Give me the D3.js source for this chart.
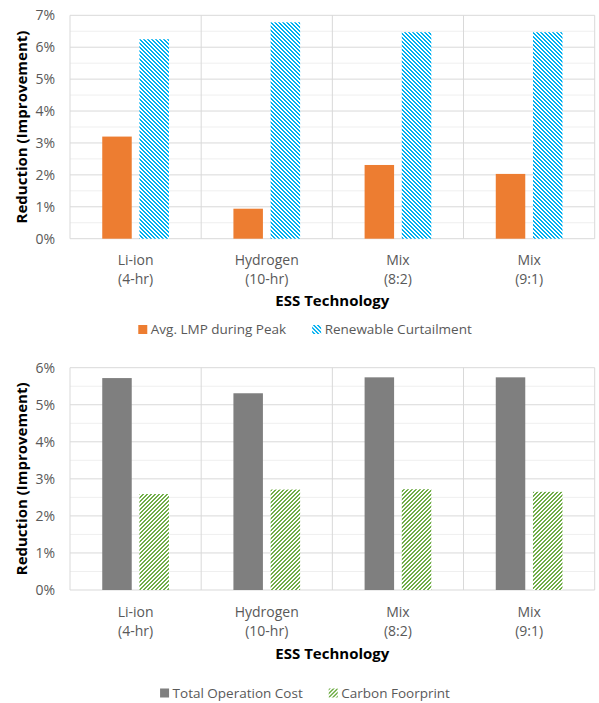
<!DOCTYPE html>
<html>
<head>
<meta charset="utf-8">
<script src="https://cdn.jsdelivr.net/npm/d3@7"></script>
<style>
  html, body { margin: 0; padding: 0; background: #fff; }
  svg { display: block; }
  text { font-family: "Open Sans", "Noto Sans", sans-serif; }
</style>
</head>
<body>
<svg id="chart" width="599" height="703"></svg>
<script>
// Storage technologies compared (two-line category labels)
const categories = ["Li-ion (4-hr)", "Hydrogen (10-hr)", "Mix (8:2)", "Mix (9:1)"];
const categoryLine1 = ["Li-ion", "Hydrogen", "Mix", "Mix"];
const categoryLine2 = ["(4-hr)", "(10-hr)", "(8:2)", "(9:1)"];

// Upper panel series (% reduction)
const lmpPeak = [3.20, 0.94, 2.31, 2.03];
const curtailment = [6.25, 6.78, 6.47, 6.47];

// Lower panel series (% reduction)
const operationCost = [5.72, 5.31, 5.74, 5.74];
const carbonFootprint = [2.59, 2.71, 2.72, 2.65];

// Axis ticks
const topTicks = [0, 1, 2, 3, 4, 5, 6, 7];
const bottomTicks = [0, 1, 2, 3, 4, 5, 6];

const yTitle = "Reduction (Improvement)";
const xTitle = "ESS Technology";

const svg = d3.select("#chart");
const defs = svg.append("defs");

// Pixel hatch patterns, 4px period
function hatch(id, color, dir) {
  const p = defs.append("pattern")
    .attr("id", id)
    .attr("patternUnits", "userSpaceOnUse")
    .attr("width", 4).attr("height", 4);
  p.append("rect").attr("width", 4).attr("height", 4).attr("fill", "#fff");
  for (let r = 0; r < 4; r++) {
    for (let k = 0; k < 2; k++) {
      const c = dir > 0 ? (r + k) % 4 : (4 + k - r) % 4;
      p.append("rect").attr("x", c).attr("y", r)
        .attr("width", 1).attr("height", 1)
        .attr("fill", color)
        .attr("shape-rendering", "crispEdges");
    }
  }
}
hatch("hatchBlue", "#00B0F0", 1);
hatch("hatchGreen", "#70AD47", -1);

const plotLeft = 70, plotRight = 594.7;
const labelSize = 14, legendSize = 13.5, titleSize = 15;

function drawPanel(opts) {
  const { top, bottom, ticks, series, fills, names, legendY, titleY, catY } = opts;
  const g = svg.append("g");
  const maxV = ticks[ticks.length - 1];

  const y = d3.scaleLinear().domain([0, maxV]).range([bottom, top]);
  const x = d3.scaleBand().domain(categories).range([plotLeft, plotRight]).padding(0);
  const xi = d3.scaleBand().domain(d3.range(series.length))
    .range([0, x.bandwidth()]).paddingInner(0.207).paddingOuter(0.867);

  // Minor gridlines at half steps
  const minor = d3.range(0.5, maxV, 1);
  g.selectAll(".minor").data(minor).join("line")
    .attr("x1", plotLeft).attr("x2", plotRight)
    .attr("y1", d => y(d)).attr("y2", d => y(d))
    .attr("stroke", "#EFEFEF").attr("stroke-width", 1);

  // Major gridlines
  g.selectAll(".major").data(ticks).join("line")
    .attr("x1", plotLeft).attr("x2", plotRight)
    .attr("y1", d => y(d)).attr("y2", d => y(d))
    .attr("stroke", "#D9D9D9").attr("stroke-width", 1);

  // Category dividers
  const edges = categories.map(c => x(c)).concat([plotRight]);
  g.selectAll(".div").data(edges).join("line")
    .attr("x1", d => d).attr("x2", d => d)
    .attr("y1", top).attr("y2", bottom)
    .attr("stroke", "#D9D9D9").attr("stroke-width", 1);

  // Bars
  series.forEach((vals, si) => {
    g.selectAll(".bar" + si).data(vals).join("rect")
      .attr("x", (d, i) => x(categories[i]) + xi(si))
      .attr("width", xi.bandwidth())
      .attr("y", d => y(d))
      .attr("height", d => y(0) - y(d))
      .attr("fill", fills[si]);
  });

  // Y tick labels
  g.selectAll(".tick").data(ticks).join("text")
    .attr("x", 55).attr("y", d => y(d))
    .attr("dy", "0.35em")
    .attr("text-anchor", "end")
    .attr("fill", "#595959")
    .attr("font-size", labelSize)
    .text(d => d + "%");

  // Y title
  g.append("text")
    .attr("transform", `translate(27,${(top + bottom) / 2}) rotate(-90)`)
    .attr("text-anchor", "middle")
    .attr("font-size", titleSize).attr("font-weight", "bold")
    .attr("fill", "#000")
    .text(yTitle);

  // Category labels
  const cl = g.selectAll(".cat").data(categories).join("text")
    .attr("x", c => x(c) + x.bandwidth() / 2)
    .attr("text-anchor", "middle")
    .attr("fill", "#595959")
    .attr("font-size", labelSize);
  cl.append("tspan").attr("x", c => x(c) + x.bandwidth() / 2)
    .attr("y", catY).attr("dy", "0.35em")
    .text((c, i) => categoryLine1[i]);
  cl.append("tspan").attr("x", c => x(c) + x.bandwidth() / 2)
    .attr("y", catY + 19).attr("dy", "0.35em")
    .text((c, i) => categoryLine2[i]);

  // X title
  g.append("text")
    .attr("x", (plotLeft + plotRight) / 2).attr("y", titleY)
    .attr("dy", "0.35em")
    .attr("text-anchor", "middle")
    .attr("font-size", titleSize).attr("font-weight", "bold")
    .attr("fill", "#000")
    .text(xTitle);

  // Legend
  const lg = g.append("g");
  let cx = 0;
  names.forEach((n, i) => {
    const item = lg.append("g").attr("transform", `translate(${cx},0)`);
    item.append("rect").attr("x", 0).attr("y", legendY - 4.5)
      .attr("width", 9).attr("height", 9).attr("fill", fills[i]);
    const t = item.append("text").attr("x", 12.5).attr("y", legendY)
      .attr("dy", "0.35em").attr("font-size", legendSize).attr("fill", "#595959")
      .text(n);
    cx += 12.5 + t.node().getComputedTextLength() + 26;
  });
  const total = cx - 26;
  lg.attr("transform", `translate(${305 - total / 2},0)`);
}

drawPanel({
  top: 15.3, bottom: 238.7, ticks: topTicks,
  series: [lmpPeak, curtailment],
  fills: ["#ED7D31", "url(#hatchBlue)"],
  names: ["Avg. LMP during Peak", "Renewable Curtailment"],
  catY: 260, titleY: 301, legendY: 329.5
});

drawPanel({
  top: 367.7, bottom: 590, ticks: bottomTicks,
  series: [operationCost, carbonFootprint],
  fills: ["#7F7F7F", "url(#hatchGreen)"],
  names: ["Total Operation Cost", "Carbon Foorprint"],
  catY: 611.7, titleY: 654, legendY: 693
});
</script>
</body>
</html>
